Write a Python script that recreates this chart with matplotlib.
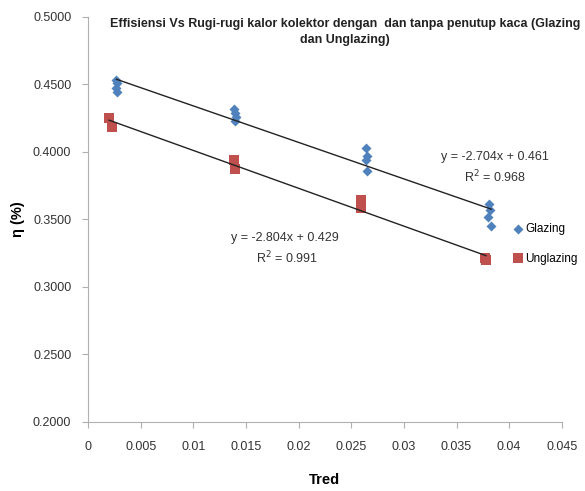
import matplotlib
matplotlib.use("Agg")
import matplotlib.pyplot as plt
import numpy as np

plt.rcParams['font.family'] = ['Liberation Sans', 'DejaVu Sans']

# Data
glazing_x = [0.0027, 0.0028, 0.0027, 0.0028,
             0.0139, 0.0140, 0.0141, 0.0140,
             0.0264, 0.0265, 0.0264, 0.0265,
             0.0381, 0.0382, 0.0380, 0.0383]
glazing_y = [0.453, 0.451, 0.447, 0.444,
             0.432, 0.429, 0.426, 0.423,
             0.403, 0.397, 0.394, 0.386,
             0.361, 0.357, 0.352, 0.345]
unglazing_x = [0.0020, 0.0023, 0.0139, 0.0140, 0.0259, 0.0259, 0.0377, 0.0378]
unglazing_y = [0.425, 0.418, 0.394, 0.387, 0.364, 0.358, 0.321, 0.320]

glazing_fit = (-2.704, 0.461)
unglazing_fit = (-2.804, 0.429)

x_ticks = [0, 0.005, 0.01, 0.015, 0.02, 0.025, 0.03, 0.035, 0.04, 0.045]
x_tick_labels = ['0', '0.005', '0.01', '0.015', '0.02', '0.025', '0.03', '0.035', '0.04', '0.045']
y_ticks = [0.20, 0.25, 0.30, 0.35, 0.40, 0.45, 0.50]

blue = '#4F81BD'
red = '#C0504D'

fig = plt.figure(figsize=(5.85, 4.91), dpi=100)
ax = fig.add_axes([0.1504, 0.1411, 0.810, 0.8248])

ax.scatter(glazing_x, glazing_y, marker='D', s=26, color=blue, label='Glazing', zorder=3, linewidths=0)
ax.scatter(unglazing_x, unglazing_y, marker='s', s=60, color=red, label='Unglazing', zorder=3, linewidths=0)

gx = np.array([min(glazing_x), max(glazing_x)])
ax.plot(gx, glazing_fit[0] * gx + glazing_fit[1], color='#222222', lw=1.0, zorder=4)
ux = np.array([min(unglazing_x), max(unglazing_x)])
ax.plot(ux, unglazing_fit[0] * ux + unglazing_fit[1], color='#222222', lw=1.0, zorder=4)

ax.set_xlim(0, 0.045)
ax.set_ylim(0.2, 0.5)
ax.set_xticks(x_ticks)
ax.set_xticklabels(x_tick_labels)
ax.set_yticks(y_ticks)
ax.set_yticklabels([f'{v:.4f}' for v in y_ticks])

for s in ['top', 'right']:
    ax.spines[s].set_visible(False)
for s in ['left', 'bottom']:
    ax.spines[s].set_color('#B0B0B0')
ax.tick_params(axis='both', colors='#B0B0B0', labelcolor='#333333', labelsize=9, length=4, direction='out')
ax.tick_params(axis='x', pad=10)
ax.tick_params(axis='y', pad=8)

ax.set_xlabel('Tred', fontsize=10.5, fontweight='bold', labelpad=14)
ax.set_ylabel('η (%)', fontsize=10.5, fontweight='bold', labelpad=6)

fig.text(345 / 585, 1 - 32 / 491,
         'Effisiensi Vs Rugi-rugi kalor kolektor dengan  dan tanpa penutup kaca (Glazing\ndan Unglazing)',
         ha='center', va='center', fontsize=9, fontweight='bold', color='#222222', linespacing=1.55)

ax.text(0.0386, 0.396, 'y = -2.704x + 0.461', ha='center', va='center', fontsize=9, color='#333333')
ax.text(0.0387, 0.381, 'R$^2$ = 0.968', ha='center', va='center', fontsize=9, color='#333333')
ax.text(0.0187, 0.336, 'y = -2.804x + 0.429', ha='center', va='center', fontsize=9, color='#333333')
ax.text(0.0189, 0.321, 'R$^2$ = 0.991', ha='center', va='center', fontsize=9, color='#333333')

ax.legend(loc='center left', bbox_to_anchor=(511 / 585, 1 - 244 / 491), bbox_transform=fig.transFigure,
          frameon=False, fontsize=8.5, handletextpad=0.0, labelspacing=1.45, borderaxespad=0.0,
          borderpad=0.0, handlelength=1.2)

fig.savefig('out.png', dpi=100)
